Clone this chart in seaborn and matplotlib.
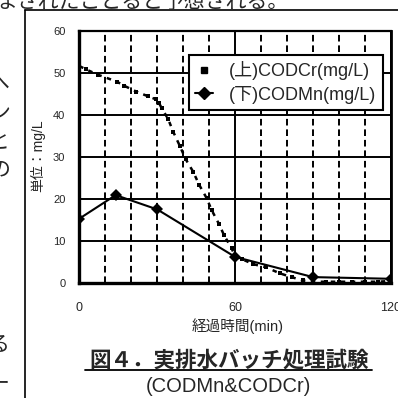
import matplotlib
matplotlib.use("Agg")
import matplotlib.pyplot as plt
from matplotlib.lines import Line2D
import seaborn as sns
import pandas as pd

# CODCr measurements (mg/L) over elapsed time (min)
cr_time = [0, 2.6, 7.3, 14.4, 17.3, 22, 26.5, 29.4, 30.7, 31.7, 34.2, 36.2, 38.7,
           40.9, 43.8, 46.2, 49, 50.9, 53.8, 55.7, 58.6, 60, 62.5, 66.9, 72, 77.2,
           81.7, 86, 90, 95, 100, 105, 110, 115, 120]
cr_value = [51.6, 50.8, 49.5, 47.9, 46.9, 45.5, 44.4, 43.7, 42.8, 41.6, 39, 35.9, 32.6,
            29.5, 26.5, 23.3, 20.2, 17.4, 14, 11.4, 8.3, 6.3, 5.7, 4.5, 3.7, 2.3,
            1.4, 0.6, 0.3, 0.3, 0.3, 0.3, 0.3, 0.3, 0.5]

# CODMn measurements (mg/L)
mn_time = [0, 14, 30, 60, 90, 120]
mn_value = [15.3, 20.9, 17.5, 6.2, 1.4, 1.0]

y_ticks = [0, 10, 20, 30, 40, 50, 60]
x_ticks = [0, 60, 120]
x_minor = [10, 20, 30, 40, 50, 70, 80, 90, 100, 110]

label_cr = "(上)CODCr(mg/L)"
label_mn = "(下)CODMn(mg/L)"
x_label = "経過時間(min)"
y_label = "単位：mg/L"
caption = "図４．実排水バッチ処理試験"
sub_caption = "(CODMn&CODCr)"
body_top = "まされたことると予想される。"
body_left = ["へ", "ン", "と", "の", "る", "ー"]

sns.set_style("white")
plt.rcParams["font.family"] = ["Liberation Sans", "Noto Sans CJK JP", "DejaVu Sans"]

W = H = 398
fig = plt.figure(figsize=(3.98, 3.98), dpi=100)
fig.patch.set_facecolor("white")


def fx(px):
    return px / W


def fy(py):
    return 1 - py / H


ax = fig.add_axes([fx(79.3), fy(283), fx(391) - fx(79.3), fy(30.7) - fy(283)])

df_cr = pd.DataFrame({"t": cr_time, "v": cr_value})
df_mn = pd.DataFrame({"t": mn_time, "v": mn_value})

sns.lineplot(data=df_cr, x="t", y="v", ax=ax, color="black", linewidth=1.8,
             marker="s", markersize=3.4, markeredgewidth=0, zorder=4)
ax.lines[-1].set_linestyle((0, (1.8, 2.2)))
sns.lineplot(data=df_mn, x="t", y="v", ax=ax, color="black", linewidth=1.5,
             marker="D", markersize=6.5, markeredgewidth=0, zorder=5)

ax.set_xlim(0, 120)
ax.set_ylim(0, 60)
ax.set_yticks(y_ticks)
ax.set_xticks(x_ticks)
ax.set_xticks(x_minor, minor=True)
ax.tick_params(axis="both", which="both", length=0)
ax.tick_params(axis="y", labelsize=8, pad=10)
ax.tick_params(axis="x", labelsize=9, pad=14)
ax.set_xlabel("")
ax.set_ylabel("")

ax.yaxis.grid(True, color="black", linewidth=1.4)
ax.xaxis.grid(True, which="major", color="black", linewidth=1.4)
ax.xaxis.grid(True, which="minor", color="black", linewidth=1.4,
              linestyle=(0, (3.4, 2.0)))
ax.set_axisbelow(True)

for side, lw in (("left", 2.4), ("bottom", 2.4), ("top", 1.6), ("right", 2.0)):
    ax.spines[side].set_visible(True)
    ax.spines[side].set_color("black")
    ax.spines[side].set_linewidth(lw)

handles = [
    Line2D([], [], color="black", marker="s", markersize=5, linestyle="none"),
    Line2D([], [], color="black", marker="D", markersize=6, linewidth=1.5),
]
leg = ax.legend(handles, [label_cr, label_mn], loc="upper right",
                bbox_to_anchor=(0.974, 0.904), borderaxespad=0, fontsize=13,
                frameon=True, fancybox=False, framealpha=1, edgecolor="black",
                handlelength=1.0, handletextpad=0.9, borderpad=0.35,
                labelspacing=0.3)
leg.get_frame().set_linewidth(1.5)

fig.text(fx(238), fy(326), x_label, ha="center", va="center", fontsize=10.5)
fig.text(fx(38), fy(156), y_label, ha="center", va="center", fontsize=10,
         rotation=90)
fig.text(fx(229), fy(361), caption, ha="center", va="center",
         fontsize=15.5, fontweight="bold")
fig.add_artist(Line2D([fx(85), fx(372)], [fy(370), fy(370)], color="black",
                      linewidth=1.3))
fig.text(fx(228), fy(387), sub_caption, ha="center", va="center", fontsize=14.5)

# surrounding document text and frame
fig.text(fx(-4), fy(8), body_top, ha="left", va="baseline", fontsize=15)
for ch, py in zip(body_left, [83, 113, 142, 170, 345, 385]):
    fig.text(fx(10), fy(py), ch, ha="right", va="center", fontsize=15)
fig.add_artist(Line2D([fx(25), fx(25)], [fy(10), fy(400)], color="black",
                      linewidth=1.2))
fig.add_artist(Line2D([fx(25), fx(400)], [fy(10), fy(10)], color="black",
                      linewidth=1.2))

fig.savefig("out.png", dpi=100)
